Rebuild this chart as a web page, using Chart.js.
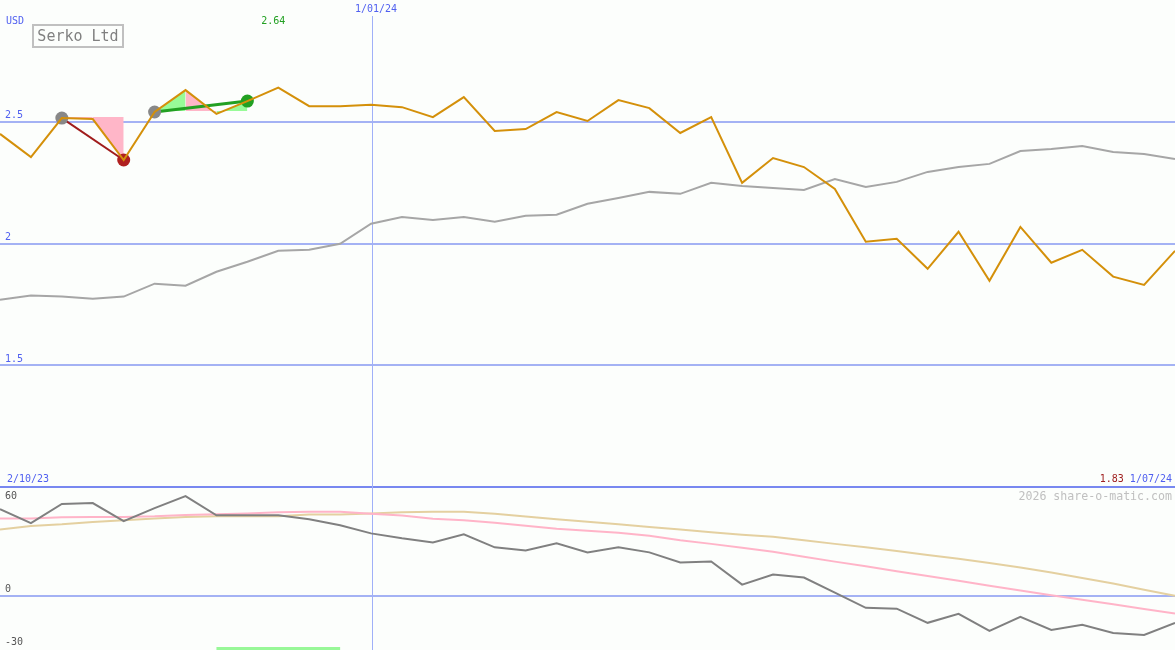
<!DOCTYPE html>
<html>
<head>
<meta charset="utf-8">
<script src="https://cdn.jsdelivr.net/npm/chart.js@4/dist/chart.umd.min.js"></script>
<style>
html,body{margin:0;padding:0;background:#fcfefc;}
#wrap{position:relative;width:1175px;height:650px;overflow:hidden;}
canvas{display:block;position:absolute;left:0;top:0;}
.t{position:absolute;font-family:"DejaVu Sans Mono",monospace;white-space:nowrap;}
#title{left:32px;top:24px;width:88px;height:20px;border:2px solid #c0c0c0;font-size:15px;line-height:20px;color:#808080;text-align:center;}
#usd{left:6px;top:15px;font-size:10px;line-height:12px;color:#5060f0;}
#wm{right:3px;top:490px;font-size:11.6px;line-height:12px;color:#c0c0c0;}
</style>
</head>
<body>
<div id="wrap">
<canvas id="c" width="1175" height="650"></canvas>
<div class="t" id="title">Serko Ltd</div>
<div class="t" id="usd">USD</div>
<div class="t" id="wm">2026 share-o-matic.com</div>
</div>
<script>
// ---- data ----
const dates = ['2/10/23','9/10/23','16/10/23','23/10/23','30/10/23','6/11/23','13/11/23','20/11/23','27/11/23','4/12/23','11/12/23','18/12/23',
  '1/01/24','8/01/24','15/01/24','22/01/24','29/01/24','5/02/24','12/02/24','19/02/24','26/02/24','4/03/24','11/03/24','18/03/24','25/03/24',
  '1/04/24','8/04/24','15/04/24','22/04/24','29/04/24','6/05/24','13/05/24','20/05/24','27/05/24','3/06/24','10/06/24','17/06/24','24/06/24','1/07/24'];
const price = [2.450,2.355,2.515,2.511,2.343,2.540,2.630,2.532,2.585,2.640,2.564,2.564,
  2.570,2.560,2.519,2.601,2.462,2.470,2.540,2.503,2.589,2.556,2.454,2.519,2.249,
  2.351,2.314,2.224,2.007,2.019,1.896,2.048,1.847,2.068,1.921,1.974,1.864,1.830,1.970];
const avg = [1.769,1.786,1.782,1.773,1.782,1.835,1.827,1.884,1.925,1.970,1.974,1.999,
  2.081,2.109,2.097,2.109,2.089,2.114,2.118,2.163,2.187,2.212,2.204,2.249,2.236,
  2.228,2.220,2.265,2.232,2.253,2.294,2.314,2.327,2.380,2.388,2.400,2.376,2.368,2.347];
const osc = [47.8,40.0,50.6,51.1,41.1,48.3,55.0,44.4,44.4,44.4,42.2,38.9,
  34.4,31.7,29.4,33.9,26.7,25.0,28.9,23.9,26.7,23.9,18.3,18.9,6.1,
  11.7,10.0,1.7,-6.7,-7.2,-15.0,-10.0,-19.4,-11.7,-18.9,-16.1,-20.6,-21.7,-15.0];
const oscSlow = [42.6,42.6,43.3,43.5,43.5,43.8,44.6,45.0,45.4,46.0,46.3,46.3,
  45.2,44.2,42.5,41.7,40.3,38.6,36.9,35.8,34.7,33.1,30.6,28.6,26.4,
  24.2,21.5,18.8,16.2,13.5,10.8,8.2,5.5,2.8,0.2,-2.3,-4.8,-7.3,-9.8];
const oscLong = [36.5,38.5,39.4,40.7,41.7,42.6,43.5,43.9,43.9,43.9,44.8,44.8,
  45.4,46.1,46.3,46.3,45.2,43.7,42.2,40.8,39.4,37.9,36.5,35.0,33.6,
  32.5,30.6,28.6,26.7,24.7,22.5,20.4,18.1,15.6,12.8,9.7,6.7,3.3,0.0];
const priceTicks = [1.5, 2, 2.5];
const oscTicks = [60, 0, -30];
const markIdx = [2, 4, 5, 8];
const markColors = ['#888888', '#b02020', '#888888', '#22a022'];
const trendRed = [2, 4];
const trendGreen = [5, 8];
const fillSegs = [
  {from:2, to:3, base:2, up:false},
  {from:3, to:4, base:2, up:false},
  {from:5, to:6, base:5, up:true},
  {from:6, to:7, base:5, up:false},
  {from:7, to:8, base:5, up:true}
];
const greenBar = [7, 11];
const markerDate = '1/01/24';
const hiLabel = '2.64';
const loLabel = '1.83';

// ---- build ----
const pts = (arr) => arr.map((v, i) => ({x: i, y: v}));
const BG = '#fcfefc';
const datasets = [];
datasets.push({data: pts(price), yAxisID:'y', borderColor:'#d4900a', borderWidth:2, pointRadius:0, fill:false});
datasets.push({data: markIdx.map(i => ({x:i, y:price[i]})), yAxisID:'y', showLine:false,
  pointRadius:6.5, pointBackgroundColor:markColors, pointBorderColor:markColors, pointBorderWidth:0});
datasets.push({data: trendRed.map(i => ({x:i, y:price[i]})), yAxisID:'y', borderColor:'#a01c1c', borderWidth:2, pointRadius:0, fill:false});
datasets.push({data: trendGreen.map(i => ({x:i, y:price[i]})), yAxisID:'y', borderColor:'#22a022', borderWidth:3, pointRadius:0, fill:false});
datasets.push({data: pts(avg), yAxisID:'y', borderColor:'#a6a6a6', borderWidth:2, pointRadius:0, fill:false});
fillSegs.forEach(s => {
  datasets.push({data:[{x:s.from, y:price[s.from]}, {x:s.to, y:price[s.to]}], yAxisID:'y',
    borderWidth:0, borderColor:'rgba(0,0,0,0)', pointRadius:0,
    backgroundColor: s.up ? '#98fb98' : '#ffb6c8', fill:{value: price[s.base] + 0.004}});
});
datasets.push({data: pts(osc), yAxisID:'y2', borderColor:'#808080', borderWidth:2, pointRadius:0, fill:false});
datasets.push({data: pts(oscSlow), yAxisID:'y2', borderColor:'#ffb4c8', borderWidth:2, pointRadius:0, fill:false});
datasets.push({data: pts(oscLong), yAxisID:'y2', borderColor:'#e4d0a0', borderWidth:2, pointRadius:0, fill:false});
datasets.push({data: greenBar.map(i => ({x:i, y:-29.2})), yAxisID:'y2', borderColor:'#98f898', borderWidth:3, pointRadius:0, fill:false, borderCapStyle:'butt'});

const markerPlugin = {
  id: 'marker',
  beforeDatasetsDraw(chart) {
    const ctx = chart.ctx, xs = chart.scales.x, a = chart.chartArea;
    const px = Math.ceil(xs.getPixelForValue(dates.indexOf(markerDate))) + 0.5;
    ctx.save();
    ctx.strokeStyle = '#a0b0f8';
    ctx.lineWidth = 1;
    ctx.beginPath();
    ctx.moveTo(px, 16);
    ctx.lineTo(px, a.bottom);
    ctx.stroke();
    ctx.restore();
  }
};

const labelPlugin = {
  id: 'labels',
  afterDraw(chart) {
    const ctx = chart.ctx, xs = chart.scales.x, ys = chart.scales.y, y2 = chart.scales.y2;
    ctx.save();
    ctx.font = '10px "DejaVu Sans Mono"';
    ctx.textBaseline = 'middle';
    ctx.textAlign = 'left';
    ctx.fillStyle = '#5060f0';
    priceTicks.forEach(v => ctx.fillText(String(v), 5, ys.getPixelForValue(v) - 6));
    ctx.fillStyle = '#555555';
    oscTicks.forEach(v => {
      let p = y2.getPixelForValue(v);
      if (v === y2.max) p += 9; else if (v === y2.min) p -= 8; else p -= 6;
      ctx.fillText(String(v), 5, p);
    });
    // marker date
    const mx = xs.getPixelForValue(dates.indexOf(markerDate));
    ctx.fillStyle = '#5060f0';
    ctx.textAlign = 'center';
    ctx.fillText(markerDate, mx + 5, 9);
    // high
    let hi = 0; price.forEach((v, i) => { if (v > price[hi]) hi = i; });
    ctx.fillStyle = '#22a022';
    ctx.fillText(hiLabel, xs.getPixelForValue(hi) - 5, 21);
    // start / end dates
    const sepY = ys.getPixelForValue(ys.min);
    ctx.textAlign = 'left';
    ctx.fillStyle = '#5060f0';
    ctx.fillText(dates[0], 7, sepY - 8);
    ctx.textAlign = 'right';
    const endX = xs.getPixelForValue(dates.length - 1) - 3;
    ctx.fillText(dates[dates.length - 1], endX, sepY - 8);
    const w = ctx.measureText(dates[dates.length - 1]).width;
    ctx.fillStyle = '#a02020';
    ctx.fillText(loLabel, endX - w - 6, sepY - 8);
    ctx.restore();
  }
};

new Chart(document.getElementById('c'), {
  type: 'line',
  data: {datasets},
  plugins: [markerPlugin, labelPlugin],
  options: {
    responsive: false, animation: false, devicePixelRatio: 1, events: [],
    layout: {padding: 0, autoPadding: false},
    plugins: {legend: {display:false}, tooltip: {enabled:false}},
    elements: {line: {tension: 0}},
    scales: {
      x: {type:'linear', min:0, max:dates.length - 1, position:'bottom',
        ticks:{display:false}, border:{display:false},
        grid:{display:false, drawTicks:false}},
      y: {type:'linear', position:'left', stack:'p', stackWeight:487, weight:2, min:1, max:3,
        ticks:{display:false}, border:{display:false},
        grid:{drawTicks:false,
          color: c => c.tick && c.tick.value === 1 ? '#7888f0' : '#a4b2f4',
          lineWidth: 2},
        afterBuildTicks: s => { s.ticks = [1].concat(priceTicks).map(v => ({value: v})); }},
      y2: {type:'linear', position:'left', stack:'p', stackWeight:163, weight:1, min:-30, max:60,
        ticks:{display:false}, border:{display:false},
        grid:{drawTicks:false, color:'#a4b2f4', lineWidth:2},
        afterBuildTicks: s => { s.ticks = [{value: 0}]; }}
    }
  }
});
</script>
</body>
</html>
